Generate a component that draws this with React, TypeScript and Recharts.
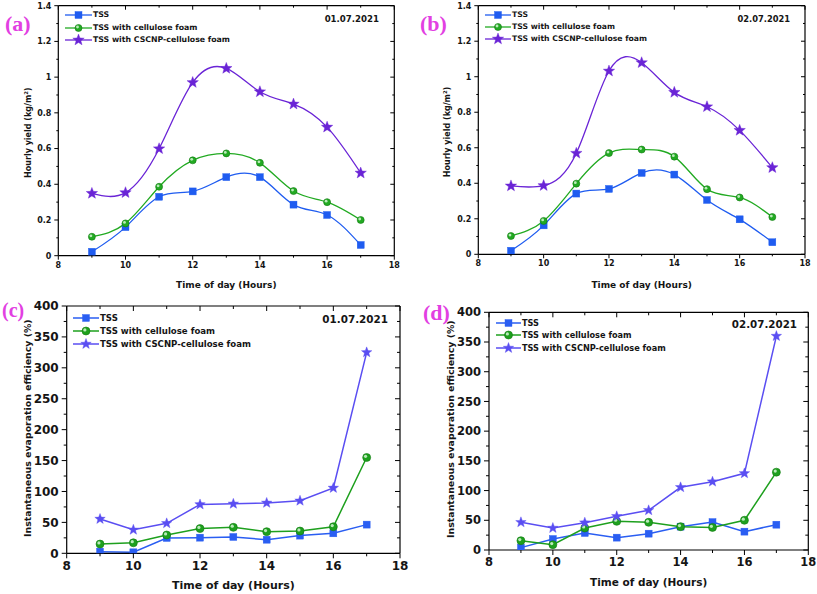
import React from 'react';
import { LineChart, Line, XAxis, YAxis, Legend } from 'recharts';

// ---------- data ----------
const hours = [9, 10, 11, 12, 13, 14, 15, 16, 17];
const seriesNames = ['TSS', 'TSS with cellulose foam', 'TSS with CSCNP-cellulose foam'];

const yieldA_TSS = [0.022, 0.16, 0.33, 0.36, 0.44, 0.44, 0.286, 0.228, 0.06];
const yieldA_Cell = [0.106, 0.181, 0.386, 0.534, 0.573, 0.52, 0.362, 0.3, 0.2];
const yieldA_CSCNP = [0.349, 0.353, 0.599, 0.97, 1.049, 0.918, 0.849, 0.72, 0.463];

const yieldB_TSS = [0.02, 0.163, 0.342, 0.368, 0.458, 0.449, 0.306, 0.197, 0.068];
const yieldB_Cell = [0.103, 0.188, 0.398, 0.57, 0.59, 0.55, 0.367, 0.32, 0.21];
const yieldB_CSCNP = [0.385, 0.387, 0.569, 1.032, 1.079, 0.912, 0.831, 0.698, 0.488];

const effC_TSS = [2.7, 1.6, 24.8, 25.3, 26.4, 22, 28.6, 32.3, 46.4];
const effC_Cell = [15, 17, 29.6, 40, 42, 35, 36, 43, 155];
const effC_CSCNP = [55.5, 38, 48.5, 79, 80, 81.5, 85, 105.7, 325];

const effD_TSS = [4, 18.5, 28.6, 20.8, 27.5, 39.3, 47, 30.9, 42.6];
const effD_Cell = [15.7, 9, 37, 48.2, 46.6, 39.3, 38, 50, 131];
const effD_CSCNP = [46.6, 37, 46, 56.7, 66.8, 105.5, 115, 129, 360];

const xMajorTicks = [8, 10, 12, 14, 16, 18];
const xMinorTicks = [9, 11, 13, 15, 17];
const yieldMajorTicks = [0, 0.2, 0.4, 0.6, 0.8, 1, 1.2, 1.4];
const yieldMinorTicks = [0.1, 0.3, 0.5, 0.7, 0.9, 1.1, 1.3];
const effMajorTicks = [0, 50, 100, 150, 200, 250, 300, 350, 400];
const effMinorTicks = [25, 75, 125, 175, 225, 275, 325, 375];

const panelLetters = ['(a)', '(b)', '(c)', '(d)'];
const panelDates = ['01.07.2021', '02.07.2021', '01.07.2021', '02.07.2021'];
const xTitle = 'Time of day (Hours)';
const yieldTitle = 'Hourly yield (kg/m';
const effTitle = 'Instantaneous evaporation efficiency (%)';

const buildRows = (a: number[], b: number[], c: number[]) =>
  hours.map((h, i) => ({ hour: h, tss: a[i], cell: b[i], cscnp: c[i] }));

const FONT = '"DejaVu Sans", Verdana, sans-serif';
const TXT = '#151515';

// ---------- markers ----------
function Marker({ kind, cx, cy, color, size }: any) {
  if (cx == null || cy == null) return <g />;
  if (kind === 'square') {
    return <rect x={cx - size / 2} y={cy - size / 2} width={size} height={size} fill={color} stroke={color} strokeWidth={0.4} />;
  }
  if (kind === 'circle') {
    return (
      <g>
        <circle cx={cx} cy={cy} r={size / 2} fill={color} stroke="#137a13" strokeWidth={0.6} />
        <circle cx={cx - size * 0.14} cy={cy - size * 0.14} r={size * 0.2} fill="#d6f7d6" opacity={0.85} />
      </g>
    );
  }
  const R = size / 2;
  const r = R * 0.42;
  const pts: string[] = [];
  for (let k = 0; k < 10; k++) {
    const ang = -Math.PI / 2 + (k * Math.PI) / 5;
    const rad = k % 2 === 0 ? R : r;
    pts.push(`${cx + rad * Math.cos(ang)},${cy + rad * Math.sin(ang)}`);
  }
  return <polygon points={pts.join(' ')} fill={color} stroke={color} strokeWidth={0.4} />;
}

const markerKinds = ['square', 'circle', 'star'];

// ---------- panel ----------
function Panel({ cfg }: any) {
  const { left, top, width, height, pl, pt, pr, pb } = cfg;
  const yMajor: number[] = cfg.yMajor;
  const yMinor: number[] = cfg.yMinor;
  const yAll = [...yMajor, ...yMinor].sort((p, q) => p - q);
  const xAll = [...xMajorTicks, ...xMinorTicks].sort((p, q) => p - q);
  const isMajorY = (v: number) => yMajor.some((m) => Math.abs(m - v) < 1e-9);
  const isMajorX = (v: number) => xMajorTicks.some((m) => Math.abs(m - v) < 1e-9);
  const fmtY = (v: number) => String(Number(v.toFixed(2)));
  const L = cfg.tickLen;
  const l = cfg.minorLen;

  const BottomTick = (p: any) => {
    const v = p.payload.value;
    const maj = isMajorX(v);
    return (
      <g>
        <line x1={p.x} x2={p.x} y1={p.y} y2={p.y + (maj ? L : l)} stroke="#000" strokeWidth={1} />
        {maj && (
          <text x={p.x} y={p.y + L + cfg.xLabGap} textAnchor="middle" fontFamily={FONT} fontWeight="bold" fontSize={cfg.tickFont} fill={TXT}>
            {v}
          </text>
        )}
      </g>
    );
  };
  const TopTick = (p: any) => {
    const v = p.payload.value;
    const maj = isMajorX(v);
    return <line x1={p.x} x2={p.x} y1={p.y} y2={p.y + (maj ? L : l)} stroke="#000" strokeWidth={1} />;
  };
  const LeftTick = (p: any) => {
    const v = p.payload.value;
    const maj = isMajorY(v);
    return (
      <g>
        <line x1={p.x - (maj ? L : l)} x2={p.x} y1={p.y} y2={p.y} stroke="#000" strokeWidth={1} />
        {maj && (
          <text x={p.x - L - cfg.yLabGap} y={p.y} dy="0.36em" textAnchor="end" fontFamily={FONT} fontWeight="bold" fontSize={cfg.tickFont} fill={TXT}>
            {fmtY(v)}
          </text>
        )}
      </g>
    );
  };
  const RightTick = (p: any) => {
    const v = p.payload.value;
    const maj = isMajorY(v);
    return <line x1={p.x - (maj ? L : l)} x2={p.x} y1={p.y} y2={p.y} stroke="#000" strokeWidth={1} />;
  };

  const XTitle = (lp: any) => {
    const vb = lp.viewBox || { x: 0, width: 0 };
    return (
      <text x={vb.x + vb.width / 2} y={cfg.xTitleY} dy="0.36em" textAnchor="middle" fontFamily={FONT} fontWeight="bold" fontSize={cfg.xTitleFont} fill={TXT}>
        {xTitle}
      </text>
    );
  };
  const YTitle = (lp: any) => {
    const vb = lp.viewBox || { y: 0, height: 0 };
    const cy = vb.y + vb.height / 2 + cfg.yTitleDy;
    const cx = cfg.yTitleX;
    return (
      <text x={cx} y={cy} dy="0.36em" transform={`rotate(-90, ${cx}, ${cy})`} textAnchor="middle" fontFamily={FONT} fontWeight="bold" fontSize={cfg.yTitleFont} fill={TXT}>
        {cfg.isYield ? (
          <>
            {yieldTitle}
            <tspan dy={-cfg.yTitleFont * 0.4} fontSize={cfg.yTitleFont * 0.65}>2</tspan>
            <tspan dy={cfg.yTitleFont * 0.4}>)</tspan>
          </>
        ) : (
          effTitle
        )}
      </text>
    );
  };

  const keys = ['tss', 'cell', 'cscnp'];
  const LegendBox = () => (
    <div style={{ fontFamily: FONT, fontWeight: 'bold', fontSize: cfg.legFont, color: TXT }}>
      {seriesNames.map((n, i) => (
        <div key={n} style={{ display: 'flex', alignItems: 'center', height: cfg.legRow, whiteSpace: 'nowrap' }}>
          <svg width={cfg.legLine} height={12} style={{ display: 'block' }}>
            <line x1={0} x2={cfg.legLine} y1={6} y2={6} stroke={cfg.colors[i]} strokeWidth={cfg.lineW} />
            <Marker kind={markerKinds[i]} cx={cfg.legLine / 2} cy={6} color={cfg.colors[i]} size={cfg.mSizes[i]} />
          </svg>
          <span style={{ marginLeft: 1, lineHeight: 1 }}>{n}</span>
        </div>
      ))}
    </div>
  );

  return (
    <div style={{ position: 'absolute', left, top, width, height }}>
      <LineChart
        width={width}
        height={height}
        data={cfg.data}
        margin={{ top: pt - 1, right: width - pr - 1, left: 0, bottom: 0 }}
      >
        <XAxis
          dataKey="hour"
          type="number"
          domain={[8, 18]}
          ticks={xAll}
          interval={0}
          height={height - pb}
          tickSize={0}
          tickMargin={0}
          tickLine={false}
          axisLine={{ stroke: '#000', strokeWidth: 1.2 }}
          tick={BottomTick}
          label={XTitle}
          allowDataOverflow
        />
        <XAxis
          xAxisId="top"
          orientation="top"
          dataKey="hour"
          type="number"
          domain={[8, 18]}
          ticks={xAll}
          interval={0}
          height={1}
          tickSize={0}
          tickMargin={0}
          tickLine={false}
          axisLine={{ stroke: '#000', strokeWidth: 1.2 }}
          tick={TopTick}
          allowDataOverflow
        />
        <YAxis
          type="number"
          domain={cfg.yDomain}
          ticks={yAll}
          interval={0}
          width={pl}
          tickSize={0}
          tickMargin={0}
          tickLine={false}
          axisLine={{ stroke: '#000', strokeWidth: 1.2 }}
          tick={LeftTick}
          label={YTitle}
          allowDataOverflow
        />
        <YAxis
          yAxisId="right"
          orientation="right"
          type="number"
          domain={cfg.yDomain}
          ticks={yAll}
          interval={0}
          width={1}
          tickSize={0}
          tickMargin={0}
          tickLine={false}
          axisLine={{ stroke: '#000', strokeWidth: 1.2 }}
          tick={RightTick}
          allowDataOverflow
        />
        {keys.map((k, i) => (
          <Line
            key={k}
            dataKey={k}
            name={seriesNames[i]}
            type={cfg.curve}
            stroke={cfg.colors[i]}
            strokeWidth={cfg.lineW}
            isAnimationActive={false}
            dot={(dp: any) => (
              <Marker key={`${k}-${dp.index}`} kind={markerKinds[i]} cx={dp.cx} cy={dp.cy} color={cfg.colors[i]} size={cfg.mSizes[i]} />
            )}
            activeDot={false}
          />
        ))}
        <Legend
          layout="vertical"
          align="center"
          verticalAlign="middle"
          wrapperStyle={{ left: cfg.legX, top: cfg.legY, width: 'auto', height: 'auto' }}
          content={LegendBox}
        />
      </LineChart>
      <div
        style={{
          position: 'absolute',
          right: width - cfg.dateRight,
          top: cfg.dateY - cfg.dateFont / 2,
          fontFamily: FONT,
          fontWeight: 'bold',
          fontSize: cfg.dateFont,
          lineHeight: `${cfg.dateFont}px`,
          color: TXT,
          whiteSpace: 'nowrap',
        }}
      >
        {cfg.date}
      </div>
      <div
        style={{
          position: 'absolute',
          left: cfg.letX,
          top: cfg.letY - cfg.letFont / 2,
          fontFamily: '"Liberation Serif", "Times New Roman", serif',
          fontWeight: 'bold',
          fontSize: cfg.letFont,
          lineHeight: `${cfg.letFont}px`,
          color: '#e23fe2',
          whiteSpace: 'nowrap',
        }}
      >
        {cfg.letter}
      </div>
    </div>
  );
}

const topColors = ['#1f5cf0', '#22aa22', '#6a24d6'];
const bottomColors = ['#2a5ef2', '#1ea01e', '#5a4ef2'];

const panels = [
  {
    left: 0, top: 0, width: 410, height: 292, pl: 58.3, pt: 5.7, pr: 394.3, pb: 255.7,
    data: buildRows(yieldA_TSS, yieldA_Cell, yieldA_CSCNP), isYield: true,
    yDomain: [0, 1.4], yMajor: yieldMajorTicks, yMinor: yieldMinorTicks,
    tickLen: 4, minorLen: 2, tickFont: 8, xLabGap: 8, yLabGap: 3,
    xTitleY: 285, xTitleFont: 9, yTitleX: 28, yTitleDy: 2, yTitleFont: 8,
    curve: 'natural', colors: topColors, lineW: 1.3, mSizes: [7, 7, 12],
    legX: 65, legY: 9, legRow: 12.5, legLine: 27, legFont: 7.8,
    date: panelDates[0], dateRight: 379, dateY: 19, dateFont: 8.6,
    letter: panelLetters[0], letX: 5, letY: 24, letFont: 22,
  },
  {
    left: 410, top: 0, width: 407, height: 292, pl: 68.3, pt: 5.7, pr: 395, pb: 254.3,
    data: buildRows(yieldB_TSS, yieldB_Cell, yieldB_CSCNP), isYield: true,
    yDomain: [0, 1.4], yMajor: yieldMajorTicks, yMinor: yieldMinorTicks,
    tickLen: 4, minorLen: 2, tickFont: 8, xLabGap: 8, yLabGap: 3,
    xTitleY: 285, xTitleFont: 9, yTitleX: 37.5, yTitleDy: 2, yTitleFont: 8,
    curve: 'natural', colors: topColors, lineW: 1.3, mSizes: [7, 7, 12],
    legX: 75, legY: 9, legRow: 12, legLine: 26, legFont: 7.7,
    date: panelDates[1], dateRight: 380, dateY: 19, dateFont: 8.3,
    letter: panelLetters[1], letX: 10, letY: 24, letFont: 22,
  },
  {
    left: 0, top: 294, width: 410, height: 300, pl: 66.7, pt: 12, pr: 400, pb: 259.3,
    data: buildRows(effC_TSS, effC_Cell, effC_CSCNP), isYield: false,
    yDomain: [0, 400], yMajor: effMajorTicks, yMinor: effMinorTicks,
    tickLen: 5, minorLen: 3, tickFont: 12, xLabGap: 11.5, yLabGap: 3,
    xTitleY: 291, xTitleFont: 11, yTitleX: 27.5, yTitleDy: -1.5, yTitleFont: 9.4,
    curve: 'linear', colors: bottomColors, lineW: 1.5, mSizes: [7, 8, 11],
    legX: 73, legY: 17.5, legRow: 13, legLine: 26, legFont: 8.6,
    date: panelDates[2], dateRight: 388, dateY: 25, dateFont: 10.4,
    letter: panelLetters[2], letX: 2, letY: 16, letFont: 20,
  },
  {
    left: 410, top: 294, width: 407, height: 300, pl: 79, pt: 18.3, pr: 398.3, pb: 256,
    data: buildRows(effD_TSS, effD_Cell, effD_CSCNP), isYield: false,
    yDomain: [0, 400], yMajor: effMajorTicks, yMinor: effMinorTicks,
    tickLen: 5, minorLen: 3, tickFont: 11.5, xLabGap: 11, yLabGap: 3,
    xTitleY: 288, xTitleFont: 10.5, yTitleX: 41, yTitleDy: -2, yTitleFont: 9.4,
    curve: 'linear', colors: bottomColors, lineW: 1.5, mSizes: [7, 8, 11],
    legX: 86, legY: 22.5, legRow: 12.5, legLine: 25, legFont: 8.2,
    date: panelDates[3], dateRight: 387, dateY: 30, dateFont: 10.3,
    letter: panelLetters[3], letX: 13, letY: 19, letFont: 22,
  },
];

export default function App() {
  return (
    <div style={{ position: 'absolute', left: 0, top: 0, width: 817, height: 594, background: '#fff', overflow: 'hidden' }}>
      {panels.map((cfg, i) => (
        <Panel key={i} cfg={cfg} />
      ))}
    </div>
  );
}
